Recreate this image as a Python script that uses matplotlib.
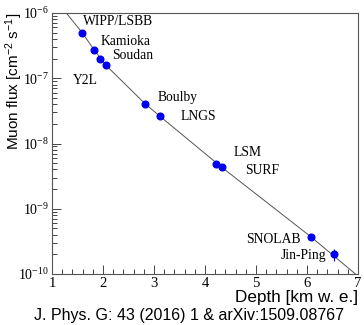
import numpy as np
import matplotlib
matplotlib.use("Agg")
import matplotlib.pyplot as plt
from matplotlib.ticker import LogLocator, NullFormatter, MultipleLocator

plt.rcParams['mathtext.default'] = 'regular'

# ---- data ----
labs = ["WIPP/LSBB", "Kamioka", "Soudan", "Y2L", "Boulby", "LNGS",
        "LSM", "SURF", "SNOLAB", "Jin-Ping"]
depth = [1.59, 1.83, 1.95, 2.05, 2.82, 3.12, 4.22, 4.34, 6.08, 6.52]
flux = [5.0e-7, 2.7e-7, 2.0e-7, 1.6e-7, 4.1e-8, 2.6e-8, 4.9e-9, 4.4e-9, 3.7e-10, 2.0e-10]
flux_err = [0.0, 0.0, 0.0, 0.1e-7, 0.0, 0.25e-8, 0.0, 0.0, 0.1e-10, 0.4e-10]

# fit curve
curve_depth = [1.28, 1.59, 1.83, 2.05, 2.82, 3.12, 4.30, 6.08, 6.95]
curve_flux = [1.0e-6, 5.0e-7, 2.7e-7, 1.6e-7, 4.1e-8, 2.6e-8, 4.5e-9, 3.7e-10, 1.0e-10]

xticks = [1, 2, 3, 4, 5, 6, 7]
yticks = [1e-10, 1e-9, 1e-8, 1e-7, 1e-6]
ytick_labels = ["10$^{-10}$", "10$^{-9}$", "10$^{-8}$", "10$^{-7}$", "10$^{-6}$"]

# label anchor positions (data coords), alignment
lab_pos = {
    "WIPP/LSBB": (1.61, 7.3e-7, 'left'),
    "Kamioka": (1.96, 3.6e-7, 'left'),
    "Soudan": (2.18, 2.27e-7, 'left'),
    "Y2L": (1.41, 9.4e-8, 'left'),
    "Boulby": (3.08, 5.0e-8, 'left'),
    "LNGS": (3.53, 2.55e-8, 'left'),
    "LSM": (4.57, 7.4e-9, 'left'),
    "SURF": (4.78, 3.9e-9, 'left'),
    "SNOLAB": (5.88, 3.4e-10, 'right'),
    "Jin-Ping": (6.37, 1.9e-10, 'right'),
}

fig = plt.figure(figsize=(3.64, 3.25), dpi=100)
ax = fig.add_axes([0.1429, 0.1569, 0.8406, 0.8031])

ax.plot(curve_depth, curve_flux, color='#555555', lw=0.7, zorder=2)
ax.errorbar(depth, flux, yerr=flux_err, fmt='o', color='#0000ee', ms=4.8,
            mec='#0000ee', ecolor='#0000aa', elinewidth=0.8, capsize=0, zorder=3)

serif = 'Liberation Serif'
sans = 'Liberation Sans'
for name in labs:
    x, y, ha = lab_pos[name]
    ax.text(x, y, name, ha=ha, va='center', fontsize=9.8, family=serif)

ax.set_yscale('log')
ax.set_xlim(1, 7)
ax.set_ylim(1e-10, 1e-6)
ax.set_xticks(xticks)
ax.set_xticklabels([str(t) for t in xticks], family=serif, fontsize=10.5)
ax.xaxis.set_minor_locator(MultipleLocator(0.2))
ax.set_yticks(yticks)
ax.set_yticklabels(ytick_labels, family=serif, fontsize=10)
ax.yaxis.set_minor_locator(LogLocator(base=10, subs=np.arange(2, 10)))
ax.yaxis.set_minor_formatter(NullFormatter())

ax.tick_params(which='both', direction='in', top=False, right=False, color='#444444', width=0.7)
ax.tick_params(which='major', length=6.5)
ax.tick_params(which='minor', length=3.5)
ax.tick_params(axis='x', pad=2)
ax.tick_params(axis='y', pad=2)
for s in ax.spines.values():
    s.set_color('#555555')
    s.set_linewidth(0.8)

ax.set_ylabel("Muon flux [cm$^{-2}$ s$^{-1}$]", family=sans, fontsize=11)
ax.yaxis.set_label_coords(-0.122, 1.0)
ax.yaxis.label.set_verticalalignment('center')
ax.yaxis.label.set_horizontalalignment('right')
ax.set_xlabel("Depth [km w. e.]", family=sans, fontsize=12.3, loc='right', labelpad=0)
fig.text(0.52, 0.028, "J. Phys. G: 43 (2016) 1 & arXiv:1509.08767", ha='center', va='center',
         family=sans, fontsize=11.5)

fig.savefig("out.png", dpi=100)
